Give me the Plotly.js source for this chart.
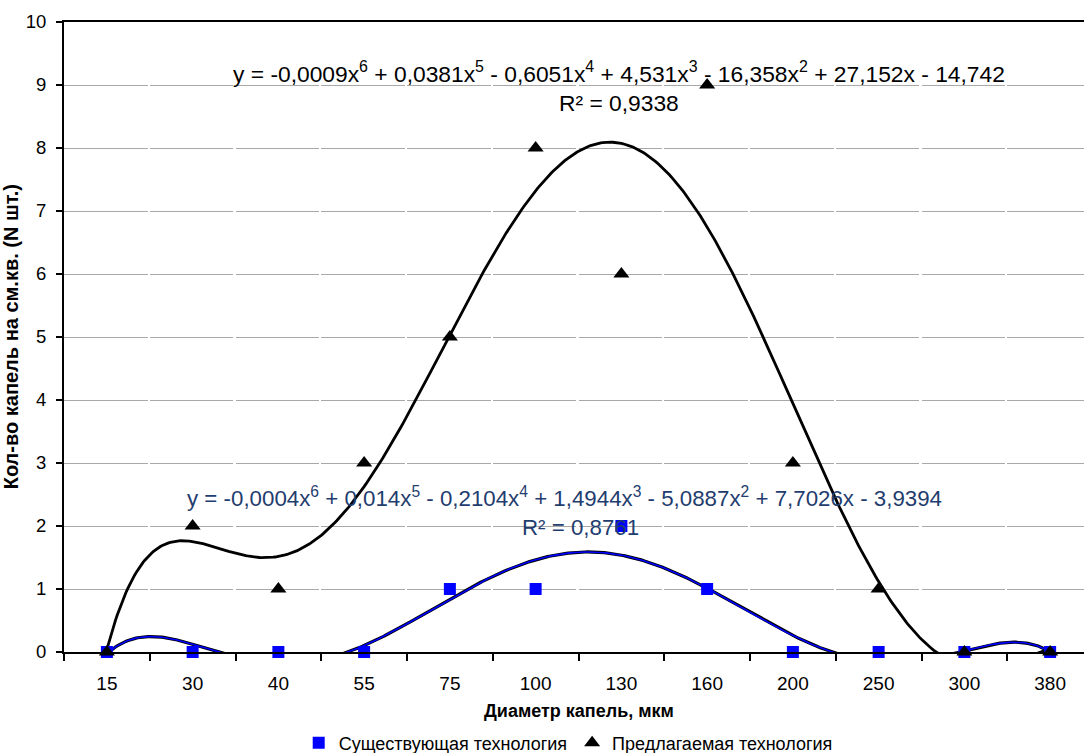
<!DOCTYPE html>
<html><head><meta charset="utf-8">
<script src="https://cdn.plot.ly/plotly-3.0.1.min.js"></script>
<style>html,body{margin:0;padding:0;overflow:hidden;background:#fff}#chart{width:1110px;height:753px}</style>
</head><body><div id="chart"></div>
<script>
// ---- data ----
const categories = ['15','30','40','55','75','100','130','160','200','250','300','380'];
const existingTech = [0,0,0,0,1,1,2,1,0,0,0,0];
const proposedTech = [0,2,1,3,5,8,6,9,3,1,0,0];
const seriesNames = ['Существующая технология','Предлагаемая технология'];
const eqExisting = 'y = -0,0004x<sup>6</sup> + 0,014x<sup>5</sup> - 0,2104x<sup>4</sup> + 1,4944x<sup>3</sup> - 5,0887x<sup>2</sup> + 7,7026x - 3,9394';
const r2Existing = 'R² = 0,8761';
const eqProposed = 'y = -0,0009x<sup>6</sup> + 0,0381x<sup>5</sup> - 0,6051x<sup>4</sup> + 4,531x<sup>3</sup> - 16,358x<sup>2</sup> + 27,152x - 14,742';
const r2Proposed = 'R² = 0,9338';
const xTitle = 'Диаметр капель, мкм';
const yTitle = 'Кол-во капель на см.кв. (N шт.)';

// ---- polynomial trendline (least squares, like the spreadsheet's trendline) ----
function polyfit(xs, ys, deg){
  const c = xs.reduce((a,b)=>a+b,0)/xs.length;
  const s = (Math.max(...xs)-Math.min(...xs))/2;
  const n = deg+1;
  const A = Array.from({length:n},()=>new Array(n+1).fill(0));
  xs.forEach((x,i)=>{
    const t=(x-c)/s; const p=[]; let v=1;
    for(let k=0;k<n;k++){p.push(v); v*=t;}
    for(let a=0;a<n;a++){ for(let b=0;b<n;b++) A[a][b]+=p[a]*p[b]; A[a][n]+=p[a]*ys[i]; }
  });
  for(let col=0;col<n;col++){
    let piv=col;
    for(let r=col+1;r<n;r++) if(Math.abs(A[r][col])>Math.abs(A[piv][col])) piv=r;
    [A[col],A[piv]]=[A[piv],A[col]];
    for(let r=0;r<n;r++){ if(r===col) continue; const f=A[r][col]/A[col][col]; for(let k=col;k<=n;k++) A[r][k]-=f*A[col][k]; }
  }
  const coef=A.map((row,i)=>row[n]/row[i]);
  return x=>{const t=(x-c)/s; let v=0; for(let k=n-1;k>=0;k--) v=v*t+coef[k]; return v;};
}
const xIdx = categories.map((_,i)=>i+1);
const fitE = polyfit(xIdx, existingTech, 6);
const fitP = polyfit(xIdx, proposedTech, 6);
const xs = []; for(let x=1; x<=12.0001; x+=0.02) xs.push(x);

const FONT = 'Arial, "Liberation Sans", sans-serif';
const traces = [
  {x: xIdx, y: existingTech, xaxis:'x2', type:'scatter', mode:'markers', name: seriesNames[0],
   marker:{symbol:'square', color:'#0000FF', size:12}, cliponaxis:false, hoverinfo:'skip'},
  {x: xIdx, y: proposedTech, xaxis:'x2', type:'scatter', mode:'markers', name: seriesNames[1],
   marker:{symbol:'triangle-up', color:'#000000', size:14}, cliponaxis:false, hoverinfo:'skip'},
  {x: xs, y: xs.map(fitE), type:'scatter', mode:'lines', line:{color:'#000000', width:3.2}, showlegend:false, hoverinfo:'skip'},
  {x: xs, y: xs.map(fitE), type:'scatter', mode:'lines', line:{color:'#0000FF', width:1.6}, showlegend:false, hoverinfo:'skip'},
  {x: xs, y: xs.map(fitP), type:'scatter', mode:'lines', line:{color:'#000000', width:2.8}, showlegend:false, hoverinfo:'skip'}
];

const boundaries = []; for(let i=0;i<=12;i++) boundaries.push(i+0.5);

const layout = {
  width:1110, height:753,
  margin:{l:64, r:17, t:22, b:101, autoexpand:false},
  paper_bgcolor:'#fff', plot_bgcolor:'#fff',
  font:{family:FONT, color:'#000'},
  showlegend:true,
  legend:{orientation:'h', x:0.49, xanchor:'center', y:-0.1444, yanchor:'middle',
          font:{size:18, family:FONT}, itemwidth:30, tracegroupgap:0, bgcolor:'rgba(0,0,0,0)'},
  xaxis:{range:[0.5,12.5], tickvals:boundaries, ticktext:boundaries.map(()=>''), ticks:'outside', ticklen:7, tickwidth:2,
         tickcolor:'#000', showline:true, linecolor:'#000', linewidth:2, mirror:true, showgrid:false, zeroline:false, fixedrange:true},
  xaxis2:{overlaying:'x', side:'bottom', range:[0.5,12.5], tickvals:xIdx, ticktext:categories, ticks:'outside', ticklen:14,
          tickcolor:'rgba(0,0,0,0)', ticklabelstandoff:0, showline:false, showgrid:false, zeroline:false, tickfont:{size:19, family:FONT}, fixedrange:true},
  yaxis:{range:[0,10], dtick:1, tick0:0, ticks:'outside', ticklen:6, tickwidth:2, tickcolor:'#000', showline:true, linecolor:'#000',
         linewidth:2, mirror:true, showgrid:true, gridcolor:'#a8a8a8', gridwidth:1, griddash:'83.5px,2.25px', zeroline:false,
         tickfont:{size:18.5, family:FONT}, ticklabelstandoff:6, fixedrange:true},
  annotations:[
    {xref:'x', yref:'y', x:6.97, y:9.206, text:eqProposed, showarrow:false, font:{size:22.8, color:'#000', family:FONT}, xanchor:'center', yanchor:'middle'},
    {xref:'x', yref:'y', x:6.97, y:8.714, text:r2Proposed, showarrow:false, font:{size:22.8, color:'#000', family:FONT}, xanchor:'center', yanchor:'middle'},
    {xref:'x', yref:'y', x:6.34, y:2.46, text:eqExisting, showarrow:false, font:{size:22.3, color:'#1F3D6E', family:FONT}, xanchor:'center', yanchor:'middle'},
    {xref:'x', yref:'y', x:6.52, y:1.97, text:r2Existing, showarrow:false, font:{size:22.3, color:'#1F3D6E', family:FONT}, xanchor:'center', yanchor:'middle'},
    {xref:'paper', yref:'paper', x:0.5, y:-0.0937, text:'<b>'+xTitle+'</b>', showarrow:false, font:{size:18, family:FONT}, xanchor:'center', yanchor:'middle'},
    {xref:'paper', yref:'paper', x:-0.0512, y:0.5, text:'<b>'+yTitle+'</b>', textangle:-90, showarrow:false, font:{size:20, family:FONT}, xanchor:'center', yanchor:'middle'}
  ]
};
Plotly.newPlot('chart', traces, layout, {displayModeBar:false, staticPlot:true});
</script>
</body></html>
